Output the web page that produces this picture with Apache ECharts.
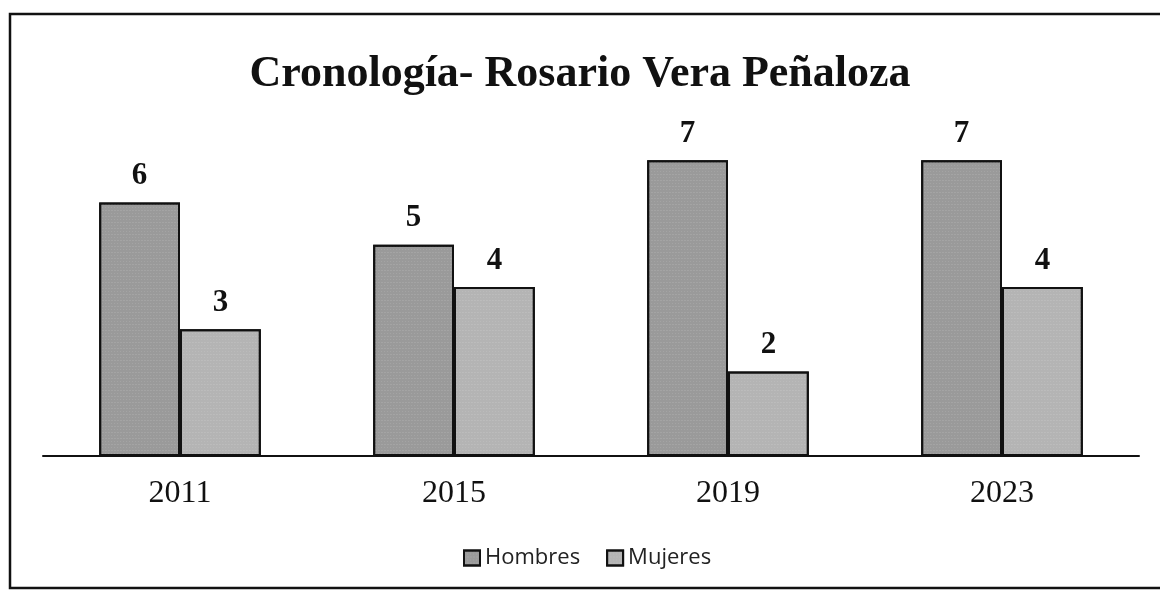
<!DOCTYPE html>
<html>
<head>
<meta charset="utf-8">
<script src="https://cdn.jsdelivr.net/npm/echarts@6/dist/echarts.min.js"></script>
<style>
  html, body { margin: 0; padding: 0; background: #fff; }
  #chart { width: 1160px; height: 595px; }
</style>
</head>
<body>
<div id="chart"></div>
<script>
var years = ['2011', '2015', '2019', '2023'];
var hombres = [6, 5, 7, 7];
var mujeres = [3, 4, 2, 4];

var chart = echarts.init(document.getElementById('chart'), null, { renderer: 'canvas' });

var serif = '"Liberation Serif", "DejaVu Serif", serif';

function barSeries(name, data, fill) {
  return {
    name: name,
    type: 'bar',
    data: data,
    barGap: '0%',
    barCategoryGap: '41%',
    itemStyle: {
      color: fill,
      borderColor: '#111',
      borderWidth: 2,
      decal: {
        symbol: 'rect',
        symbolSize: 0.6,
        dashArrayX: [[1, 2], [2, 1]],
        dashArrayY: [1, 2],
        color: 'rgba(255,255,255,0.35)',
        rotation: 0
      }
    },
    label: {
      show: true,
      position: 'top',
      distance: 11,
      color: '#111',
      fontFamily: serif,
      fontWeight: 'bold',
      fontSize: 31
    }
  };
}

chart.setOption({
  animation: false,
  backgroundColor: '#fff',
  title: {
    text: 'Cronología- Rosario Vera Peñaloza',
    left: 'center',
    top: 48,
    textStyle: { fontFamily: serif, fontWeight: 'bold', fontSize: 44, color: '#111' }
  },
  legend: {
    data: ['Hombres', 'Mujeres'],
    top: 542,
    left: 458,
    icon: 'rect',
    itemWidth: 16,
    itemHeight: 15,
    itemGap: 26,
    textStyle: { fontFamily: '"Open Sans", "Noto Sans", sans-serif', fontSize: 22, color: '#222' }
  },
  grid: { left: 43, right: 21, top: 118, bottom: 139, containLabel: false },
  xAxis: {
    type: 'category',
    data: years,
    axisLine: { lineStyle: { color: '#111', width: 2 } },
    axisTick: { show: false },
    axisLabel: { color: '#111', fontFamily: serif, fontSize: 32, margin: 22 }
  },
  yAxis: {
    type: 'value',
    min: 0,
    max: 8,
    show: false,
    splitLine: { show: false }
  },
  series: [
    barSeries('Hombres', hombres, '#9a9a9a'),
    barSeries('Mujeres', mujeres, '#b4b4b4')
  ],
  graphic: [{
    type: 'rect',
    shape: { x: 10, y: 14, width: 1170, height: 574 },
    style: { fill: 'none', stroke: '#111', lineWidth: 2.5 },
    silent: true
  }]
});
window.addEventListener('resize', function() { chart.resize(); });
</script>
</body>
</html>
